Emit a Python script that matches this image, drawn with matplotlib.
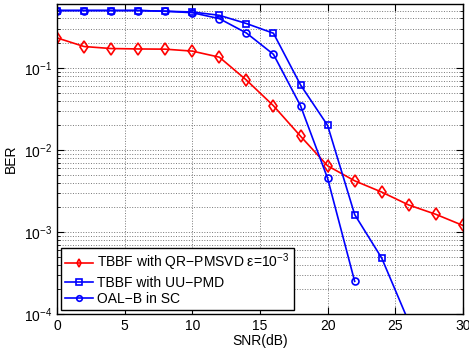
import numpy as np
import matplotlib
matplotlib.use("Agg")
import matplotlib.pyplot as plt
from matplotlib.ticker import LogLocator, NullFormatter

plt.rcParams["font.family"] = ["Liberation Sans", "DejaVu Sans"]
plt.rcParams["mathtext.fontset"] = "custom"
plt.rcParams["mathtext.rm"] = "Liberation Sans"

# ---- data ----
snr_qr = [0, 2, 4, 6, 8, 10, 12, 14, 16, 18, 20, 22, 24, 26, 28, 30]
ber_qr = [0.232, 0.182, 0.172, 0.170, 0.169, 0.160, 0.135, 0.071, 0.0345,
          0.0147, 0.0064, 0.0042, 0.00306, 0.00213, 0.00164, 0.0012]

snr_uu = [0, 2, 4, 6, 8, 10, 12, 14, 16, 18, 20, 22, 24, 26]
ber_uu = [0.5, 0.5, 0.5, 0.5, 0.49, 0.48, 0.437, 0.347, 0.264, 0.062,
          0.0199, 0.00163, 0.00048, 0.00008]

snr_oal = [0, 2, 4, 6, 8, 10, 12, 14, 16, 18, 20, 22]
ber_oal = [0.5, 0.5, 0.5, 0.5, 0.49, 0.47, 0.398, 0.266, 0.146, 0.0345,
           0.0045, 0.00025]

labels = ["TBBF with QR\u2212PMSVD \u03b5=10$^{\u22123}$",
          "TBBF with UU\u2212PMD",
          "OAL\u2212B in SC"]

fig = plt.figure(figsize=(4.69, 3.49), dpi=100)
ax = fig.add_axes([0.1215, 0.1003, 0.8655, 0.8882])

ax.semilogy(snr_qr, ber_qr, color="red", marker="d", markersize=6,
            markerfacecolor="none", markeredgewidth=1.2, linewidth=1.2, label=labels[0])
ax.semilogy(snr_uu, ber_uu, color="blue", marker="s", markersize=4.5,
            markerfacecolor="none", markeredgewidth=1.2, linewidth=1.2, label=labels[1])
ax.semilogy(snr_oal, ber_oal, color="blue", marker="o", markersize=5,
            markerfacecolor="none", markeredgewidth=1.2, linewidth=1.2, label=labels[2])

ax.set_xlim(0, 30)
ax.set_ylim(1e-4, 0.6)
ax.set_xticks([0, 5, 10, 15, 20, 25, 30])
ax.yaxis.set_major_locator(LogLocator(base=10, numticks=10))
ax.yaxis.set_minor_locator(LogLocator(base=10, subs=np.arange(2, 10), numticks=20))
ax.yaxis.set_minor_formatter(NullFormatter())

ax.grid(True, which="major", linestyle=":", color="#777777", linewidth=0.7)
ax.grid(True, which="minor", axis="y", linestyle=":", color="#777777", linewidth=0.7)
ax.tick_params(direction="in", which="both", top=True, right=True, labelsize=10)
ax.tick_params(which="major", length=5)
ax.tick_params(which="minor", length=2.5)
for s in ax.spines.values():
    s.set_linewidth(1.0)

ax.set_xlabel("SNR(dB)", fontsize=10, labelpad=1)
ax.set_ylabel("BER", fontsize=10, labelpad=4)

leg = ax.legend(loc="lower left", fontsize=10, fancybox=False, framealpha=1,
                edgecolor="black", borderaxespad=0.3, handlelength=2.0,
                borderpad=0.3, labelspacing=0.15, handletextpad=0.3)
leg.get_frame().set_linewidth(1.0)
for h in leg.legend_handles:
    h.set_markersize(4)

fig.savefig("out.png", dpi=100)
